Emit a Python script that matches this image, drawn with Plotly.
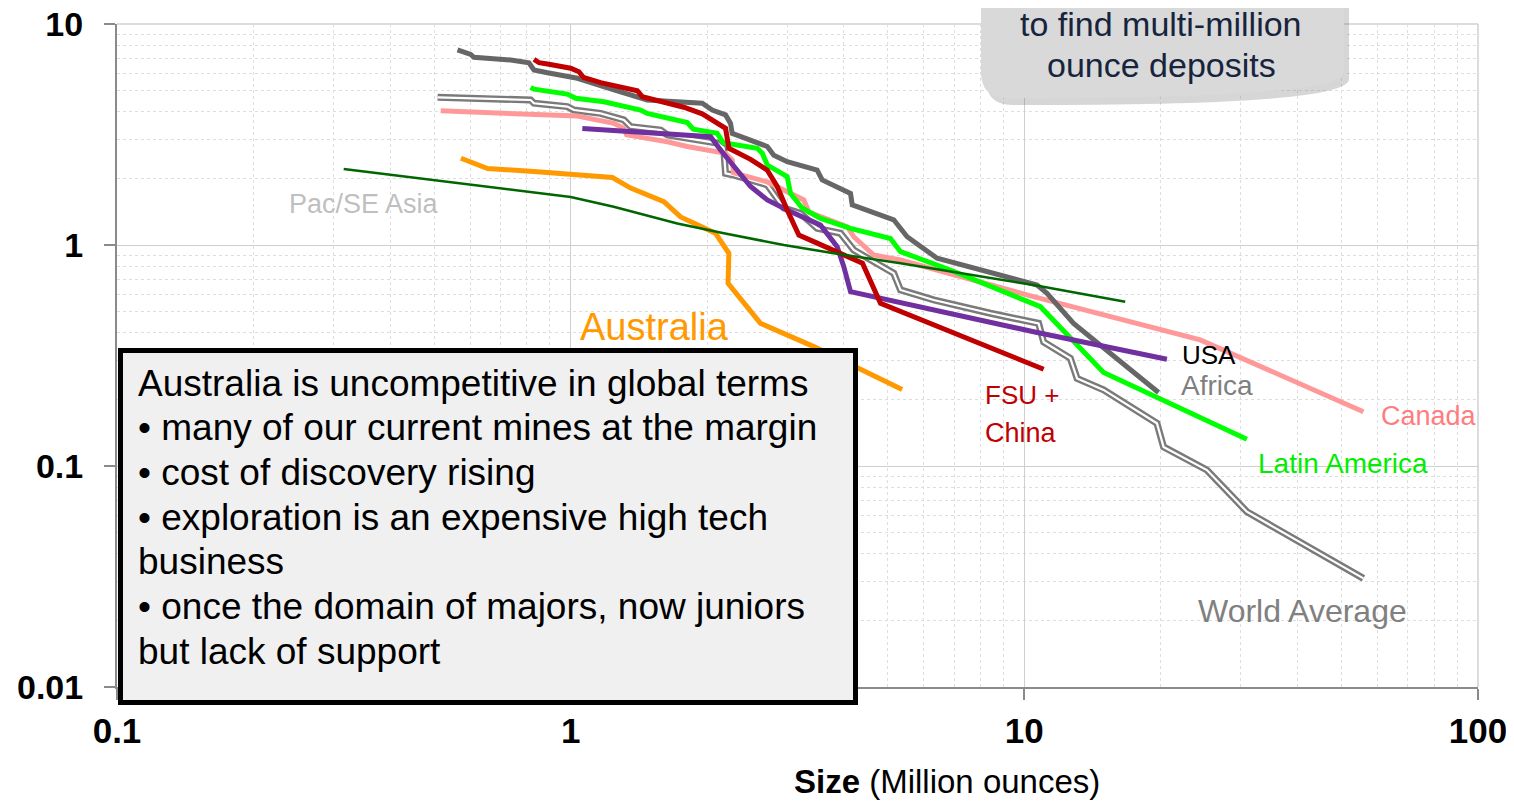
import plotly.graph_objects as go

# ---------------- data ----------------
world_x = [0.509, 0.816, 0.830, 0.983, 1.017, 1.164, 1.310, 1.356, 1.579, 1.633, 1.901, 2.104, 2.173,
           2.195, 2.289, 2.713, 2.950, 3.212, 3.494, 3.933, 4.207, 5.154, 5.333, 6.313, 8.417, 10.75,
           11.03, 12.63, 13.07, 14.95, 19.60, 20.27, 25.26, 30.94, 55.9]
world_y = [4.66, 4.53, 4.38, 4.23, 4.08, 3.94, 3.68, 3.43, 3.31, 3.15, 2.99, 2.89, 2.75,
           2.11, 2.07, 1.87, 1.47, 1.39, 1.19, 1.13, 0.949, 0.745, 0.626, 0.564, 0.491, 0.442,
           0.364, 0.307, 0.249, 0.221, 0.156, 0.122, 0.0959, 0.0621, 0.0310]

canada_x = [0.517, 1.035, 1.246, 1.308, 1.328, 1.475, 1.633, 1.807, 2.068, 2.195, 2.270, 2.286,
            2.713, 3.265, 3.349, 4.071, 4.207, 4.657, 5.333, 10.47, 24.42, 55.9]
canada_y = [4.05, 3.83, 3.55, 3.38, 3.15, 3.04, 2.93, 2.79, 2.67, 2.60, 2.42, 2.12,
            1.93, 1.60, 1.41, 1.21, 1.09, 0.901, 0.855, 0.584, 0.372, 0.176]

africa_x = [0.563, 0.602, 0.612, 0.738, 0.809, 0.830, 0.889, 1.035, 1.246, 1.414, 1.475, 1.950,
            2.051, 2.195, 2.251, 2.270, 2.713, 2.804, 3.001, 3.494, 3.584, 4.139, 4.175, 5.154,
            5.516, 6.423, 10.67, 11.22, 12.84, 19.76]
africa_y = [7.63, 7.29, 7.07, 6.87, 6.68, 6.19, 6.02, 5.68, 5.03, 4.69, 4.53, 4.38,
            4.08, 3.88, 3.55, 3.20, 2.79, 2.55, 2.38, 2.18, 1.97, 1.71, 1.52, 1.30,
            1.09, 0.871, 0.659, 0.605, 0.442, 0.215]

australia_x = [0.573, 0.656, 0.830, 1.236, 1.356, 1.605, 1.747, 2.086, 2.232, 2.223, 2.621, 3.435, 5.378]
australia_y = [2.47, 2.22, 2.15, 2.02, 1.81, 1.57, 1.34, 1.13, 0.917, 0.671, 0.442, 0.347, 0.222]

latam_x = [0.816, 0.830, 0.983, 1.026, 1.184, 1.267, 1.426, 1.475, 1.633, 1.807, 1.863, 2.104,
           2.169, 2.578, 2.645, 2.713, 3.001, 3.052, 3.239, 3.554, 4.139, 5.068, 5.333, 6.87,
           10.85, 14.95, 30.94]
latam_y = [5.17, 5.07, 4.82, 4.61, 4.45, 4.30, 4.08, 3.94, 3.78, 3.58, 3.34, 3.20,
           2.90, 2.74, 2.60, 2.30, 2.04, 1.71, 1.47, 1.32, 1.19, 1.07, 0.933, 0.771,
           0.526, 0.265, 0.132]

usa_x = [1.061, 2.034, 2.140, 2.289, 2.492, 2.713, 3.001, 3.554, 3.868, 4.000, 4.139, 10.48, 20.62]
usa_y = [3.37, 3.09, 2.69, 2.26, 1.84, 1.60, 1.44, 1.23, 0.982, 0.798, 0.615, 0.405, 0.304]

fsu_x = [0.830, 0.852, 0.889, 1.000, 1.043, 1.067, 1.164, 1.246, 1.403, 1.438, 1.605, 1.776,
         1.950, 2.034, 2.195, 2.232, 2.492, 2.713, 2.853, 3.001, 3.184, 3.494, 3.868, 4.398,
         4.818, 11.03]
fsu_y = [6.92, 6.68, 6.59, 6.31, 6.08, 5.74, 5.43, 5.24, 4.99, 4.69, 4.45, 4.20,
         3.92, 3.71, 3.37, 2.74, 2.44, 2.18, 1.84, 1.44, 1.11, 1.02, 0.933, 0.827,
         0.545, 0.274]

pac_x = [0.316, 1.000, 1.244, 1.718, 2.176, 2.950, 3.802, 5.333, 10.48, 16.69]
pac_y = [2.21, 1.65, 1.49, 1.25, 1.13, 1.00, 0.917, 0.827, 0.659, 0.554]

x_ticks = [0.1, 1, 10, 100]
x_ticktext = ["0.1", "1", "10", "100"]
y_ticks = [0.01, 0.1, 1, 10]
y_ticktext = ["0.01", "0.1", "1", "10"]

box_lines = [
    "Australia is uncompetitive in global terms",
    "\u2022 many of our current mines at the margin",
    "\u2022 cost of discovery rising",
    "\u2022 exploration is an expensive high tech",
    "business",
    "\u2022 once the domain of majors, now juniors",
    "but lack of support",
]
callout_lines = ["to find multi-million", "ounce deposits"]

# ---------------- geometry helpers ----------------
# page has an 8px body margin, so the figure sits at (8, 8) on the page
OFF = 8
PAGE_W, PAGE_H = 1514, 801
W, H = PAGE_W - OFF, PAGE_H - OFF
# plot area in page pixels
L, R, T, B = 117, 1478, 24, 687


def px(x):
    return (x - L) / (R - L)


def py(y):
    return (B - y) / (B - T)


def path_from(points):
    parts = []
    for cmd, pts in points:
        coords = " ".join(f"{px(a):.5f},{py(b):.5f}" for a, b in pts)
        parts.append(f"{cmd} {coords}")
    return " ".join(parts) + " Z"


fig = go.Figure()


def add_line(xs, ys, color, width):
    fig.add_trace(go.Scatter(x=xs, y=ys, mode="lines",
                             line=dict(color=color, width=width),
                             hoverinfo="skip", showlegend=False))


add_line(world_x, world_y, "#7a7a7a", 7)
add_line(world_x, world_y, "#ffffff", 2.2)
add_line(canada_x, canada_y, "#FF9999", 5)
add_line(africa_x, africa_y, "#666666", 5)
add_line(australia_x, australia_y, "#FF9900", 5)
add_line(latam_x, latam_y, "#00FF00", 5)
add_line(usa_x, usa_y, "#7030A0", 5)
add_line(fsu_x, fsu_y, "#C00000", 5)
add_line(pac_x, pac_y, "#006600", 2.5)

minor_vals = [m * 10 ** e for e in range(-3, 3) for m in range(2, 10)]

fig.update_xaxes(
    type="log", range=[-1, 2], automargin=False,
    tickmode="array", tickvals=x_ticks, ticktext=x_ticktext,
    tickfont=dict(family="Arial", size=35, color="#000000", weight="bold"),
    ticklabeloverflow="allow",
    showline=True, linecolor="#8a8a8a", linewidth=2,
    ticks="outside", ticklen=11, tickwidth=2, tickcolor="#8a8a8a",
    ticklabelstandoff=1,
    showgrid=True, gridcolor="#cfcfcf", gridwidth=1,
    minor=dict(tickmode="array", tickvals=minor_vals, showgrid=True,
               gridcolor="#dedede", griddash="dot", gridwidth=1, ticks=""),
    zeroline=False,
)
fig.update_yaxes(
    type="log", range=[-2, 1], automargin=False,
    tickmode="array", tickvals=y_ticks, ticktext=y_ticktext,
    tickfont=dict(family="Arial", size=34, color="#000000", weight="bold"),
    ticklabeloverflow="allow",
    showline=True, linecolor="#8a8a8a", linewidth=2,
    ticks="outside", ticklen=11, tickwidth=2, tickcolor="#8a8a8a",
    ticklabelstandoff=14,
    showgrid=True, gridcolor="#cfcfcf", gridwidth=1,
    minor=dict(tickmode="array", tickvals=minor_vals, showgrid=True,
               gridcolor="#dedede", griddash="dot", gridwidth=1, ticks=""),
    zeroline=False,
)

shapes = []
# top / right light border
shapes.append(dict(type="line", xref="paper", yref="paper", x0=0, x1=1, y0=1, y1=1,
                   line=dict(color="#d0d0d0", width=1.5), layer="below"))
shapes.append(dict(type="line", xref="paper", yref="paper", x0=1, x1=1, y0=0, y1=1,
                   line=dict(color="#d0d0d0", width=1.5), layer="below"))

# callout bubble
bl, br, bb, bt, r = 981, 1344, 98, -80, 26
tail = [(1038, bb), (922, 162), (1132, bb)]


def bubble(dx, dy):
    return [
        ("M", [(bl + dx, bt + dy)]),
        ("L", [(bl + dx, bb - r + dy)]),
        ("Q", [(bl + dx, bb + dy), (bl + r + dx, bb + dy)]),
        ("L", [(tail[0][0] + dx, tail[0][1] + dy), (tail[1][0] + dx, tail[1][1] + dy),
               (tail[2][0] + dx, tail[2][1] + dy), (br - r + dx, bb + dy)]),
        ("Q", [(br + dx, bb + dy), (br + dx, bb - r + dy)]),
        ("L", [(br + dx, bt + dy)]),
    ]


shapes.append(dict(type="path", xref="paper", yref="paper", path=path_from(bubble(5, 7)),
                   fillcolor="rgba(120,120,120,0.30)", line=dict(width=0), layer="above"))
shapes.append(dict(type="path", xref="paper", yref="paper", path=path_from(bubble(0, 0)),
                   fillcolor="#d9d9d9", line=dict(width=0), layer="above"))

# text box
shapes.append(dict(type="rect", xref="paper", yref="paper",
                   x0=px(120.5), x1=px(855.5), y0=py(702.5), y1=py(350.5),
                   fillcolor="#f0f0f0", line=dict(color="#000000", width=5), layer="above"))

annotations = []


def label(text, x, y, size, color, anchor="left"):
    annotations.append(dict(text=text, xref="paper", yref="paper", x=px(x), y=py(y),
                            xanchor=anchor, yanchor="middle", showarrow=False,
                            font=dict(family="Arial", size=size, color=color)))


box_y = [383, 427, 472, 517, 561, 606, 651]
for t, yy in zip(box_lines, box_y):
    label(t, 136, yy, 37, "#000000")

for t, yy in zip(callout_lines, [24, 65]):
    label(t, 1161, yy, 34, "#17243d", anchor="center")

label("Pac/SE Asia", 364, 204, 27, "#bfbfbf", anchor="center")
label("Australia", 654, 327, 38, "#FF9900", anchor="center")
label("FSU +", 983, 395, 26, "#C00000")
label("China", 983, 433, 27, "#C00000")
label("USA", 1180, 355, 26, "#000000")
label("Africa", 1179, 385, 28, "#7f7f7f")
label("Canada", 1379, 416, 27, "#FF7C80")
label("Latin America", 1256, 463, 28, "#00EE00")
label("World Average", 1196, 611, 32, "#808080")

label("<b>Size</b> (Million ounces)", 947, 781, 33, "#000000", anchor="center")

fig.update_layout(
    width=W, height=H,
    margin=dict(l=L - OFF, r=W - (R - OFF), t=T - OFF, b=H - (B - OFF), pad=0),
    paper_bgcolor="#ffffff", plot_bgcolor="#ffffff",
    shapes=shapes, annotations=annotations,
    showlegend=False,
    font=dict(family="Arial"),
)

fig.write_html("out.html")
